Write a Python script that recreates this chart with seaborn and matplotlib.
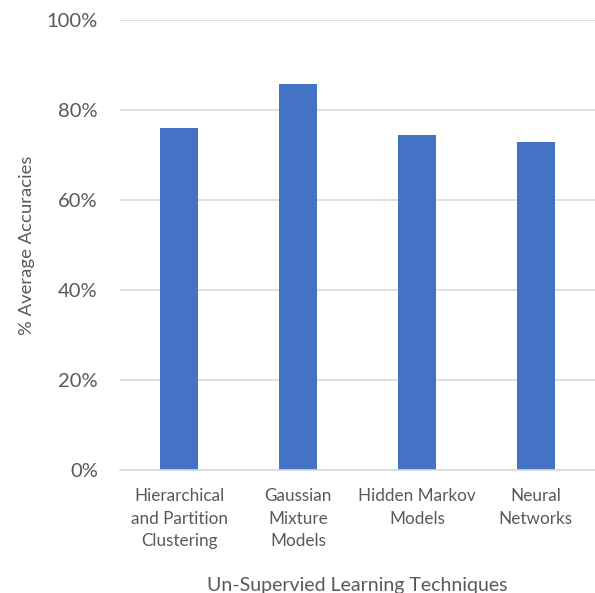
import matplotlib
matplotlib.use("Agg")
import matplotlib.pyplot as plt
import seaborn as sns
import pandas as pd
from matplotlib.ticker import FuncFormatter

categories = ["Hierarchical\nand Partition\nClustering", "Gaussian\nMixture\nModels",
              "Hidden Markov\nModels", "Neural\nNetworks"]
accuracies = [76.0, 85.8, 74.5, 73.0]
y_ticks = [0, 20, 40, 60, 80, 100]

sns.set_theme(style="white")
plt.rcParams['font.family'] = ['Lato', 'DejaVu Sans']

df = pd.DataFrame({"cat": categories, "acc": accuracies})

fig = plt.figure(figsize=(5.95, 5.93), dpi=100)
ax = fig.add_axes([120/595, 123/593, 475/595, 450/593])

sns.barplot(data=df, x="cat", y="acc", color="#4472C4", width=0.32, ax=ax,
            saturation=1, edgecolor="none")

ax.set_ylim(0, 100)
ax.set_xlim(-0.5, 3.5)
ax.set_yticks(y_ticks)
ax.yaxis.set_major_formatter(FuncFormatter(lambda v, p: f"{int(v)}%"))
ax.grid(axis="y", color="#D9D9D9", linewidth=1.2)
ax.set_axisbelow(True)
for s in ["top", "right", "left"]:
    ax.spines[s].set_visible(False)
ax.spines["bottom"].set_color("#D9D9D9")
ax.spines["bottom"].set_linewidth(1.2)
ax.tick_params(axis="both", length=0)
ax.tick_params(axis="y", labelsize=14.5, colors="#595959", pad=16)
ax.tick_params(axis="x", labelsize=12.3, colors="#595959", pad=13)
for lab in ax.get_xticklabels():
    lab.set_multialignment("center")
    lab.set_linespacing(1.5)

ax.set_xlabel("Un-Supervied Learning Techniques", fontsize=14, color="#595959", labelpad=20)
ax.set_ylabel("% Average Accuracies", fontsize=13.3, color="#595959", labelpad=8)

fig.savefig("out.png", dpi=100)
